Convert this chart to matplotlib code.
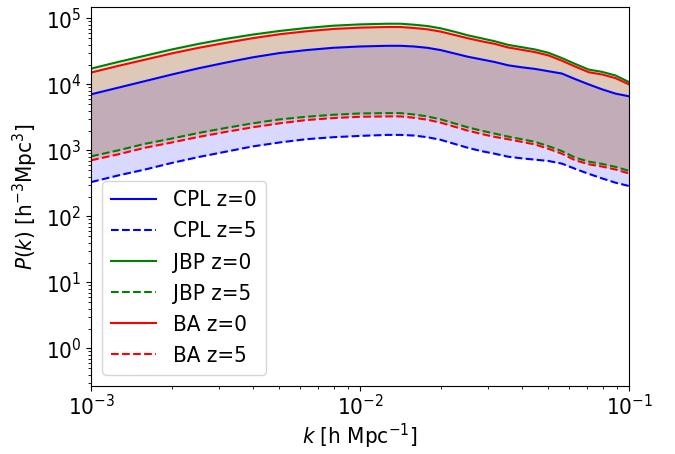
import numpy as np
import matplotlib
matplotlib.use("Agg")
import matplotlib.pyplot as plt

# wavenumber grid [h/Mpc]
k = [0.001, 0.001259, 0.001585, 0.001995, 0.002512, 0.003162, 0.003981,
     0.005012, 0.006310, 0.007943, 0.01, 0.01259, 0.01413, 0.01585,
     0.01778, 0.01995, 0.02239, 0.02512, 0.02818, 0.03162, 0.03548,
     0.03981, 0.04467, 0.05012, 0.05623, 0.06310, 0.07079, 0.07943,
     0.08913, 0.1]

# log10 P(k) for each dark energy parametrisation
logp_cpl_z0 = [3.85, 3.95, 4.05, 4.15, 4.245, 4.33, 4.41, 4.475, 4.52, 4.555,
               4.575, 4.585, 4.585, 4.575, 4.555, 4.52, 4.47, 4.42, 4.38, 4.34,
               4.29, 4.26, 4.235, 4.20, 4.165, 4.08, 4.00, 3.925, 3.86, 3.82]
logp_cpl_z5 = [2.52, 2.62, 2.71, 2.81, 2.90, 2.98, 3.06, 3.12, 3.17, 3.20,
               3.22, 3.235, 3.235, 3.225, 3.20, 3.16, 3.10, 3.04, 2.99, 2.95,
               2.905, 2.88, 2.86, 2.84, 2.80, 2.72, 2.645, 2.575, 2.51, 2.46]
logp_jbp_z0 = [4.24, 4.34, 4.435, 4.53, 4.615, 4.69, 4.755, 4.81, 4.855, 4.89,
               4.91, 4.92, 4.92, 4.905, 4.885, 4.85, 4.80, 4.745, 4.70, 4.655,
               4.60, 4.565, 4.53, 4.48, 4.40, 4.31, 4.225, 4.19, 4.135, 4.035]
logp_jbp_z5 = [2.91, 3.00, 3.10, 3.18, 3.265, 3.34, 3.41, 3.47, 3.51, 3.54,
               3.56, 3.565, 3.565, 3.545, 3.515, 3.47, 3.41, 3.35, 3.30, 3.255,
               3.21, 3.17, 3.13, 3.065, 2.99, 2.89, 2.83, 2.795, 2.75, 2.69]
logp_ba_z0 = [4.18, 4.28, 4.375, 4.47, 4.555, 4.63, 4.70, 4.76, 4.805, 4.84,
              4.86, 4.87, 4.87, 4.855, 4.835, 4.80, 4.75, 4.70, 4.655, 4.615,
              4.56, 4.525, 4.49, 4.44, 4.36, 4.27, 4.185, 4.15, 4.095, 4.00]
logp_ba_z5 = [2.85, 2.94, 3.04, 3.12, 3.205, 3.28, 3.35, 3.41, 3.46, 3.49,
              3.51, 3.515, 3.515, 3.495, 3.465, 3.42, 3.36, 3.30, 3.25, 3.205,
              3.17, 3.13, 3.09, 3.025, 2.95, 2.85, 2.79, 2.755, 2.71, 2.65]

models = ["CPL", "JBP", "BA"]
colors = ["blue", "green", "red"]
z0_data = [logp_cpl_z0, logp_jbp_z0, logp_ba_z0]
z5_data = [logp_cpl_z5, logp_jbp_z5, logp_ba_z5]

plt.rcParams['font.size'] = 16
plt.rcParams['font.stretch'] = 'condensed'

fig = plt.figure(figsize=(6.75, 4.54), dpi=100)
ax = fig.add_axes([0.135, 0.150, 0.797, 0.835])

for name, c, p0, p5 in zip(models, colors, z0_data, z5_data):
    p0 = 10 ** np.array(p0)
    p5 = 10 ** np.array(p5)
    ax.plot(k, p0, color=c, ls='-', label=name + " z=0")
    ax.plot(k, p5, color=c, ls='--', label=name + " z=5")
    # shaded band between the two redshifts
    ax.fill_between(k, p5, p0, color=c, alpha=0.15, lw=0)

ax.set_xscale('log')
ax.set_yscale('log')
ax.set_xlim(1e-3, 1e-1)
ax.set_ylim(0.27, 1.5e5)
ax.tick_params(axis='x', pad=2.5)
ax.set_xlabel(r"$k$ [h Mpc$^{-1}$]", labelpad=2)
ax.set_ylabel(r"$P(k)$ [h$^{-3}$Mpc$^3$]")
ax.legend(loc='lower left', fontsize=16)

plt.savefig("out.png", dpi=100)
